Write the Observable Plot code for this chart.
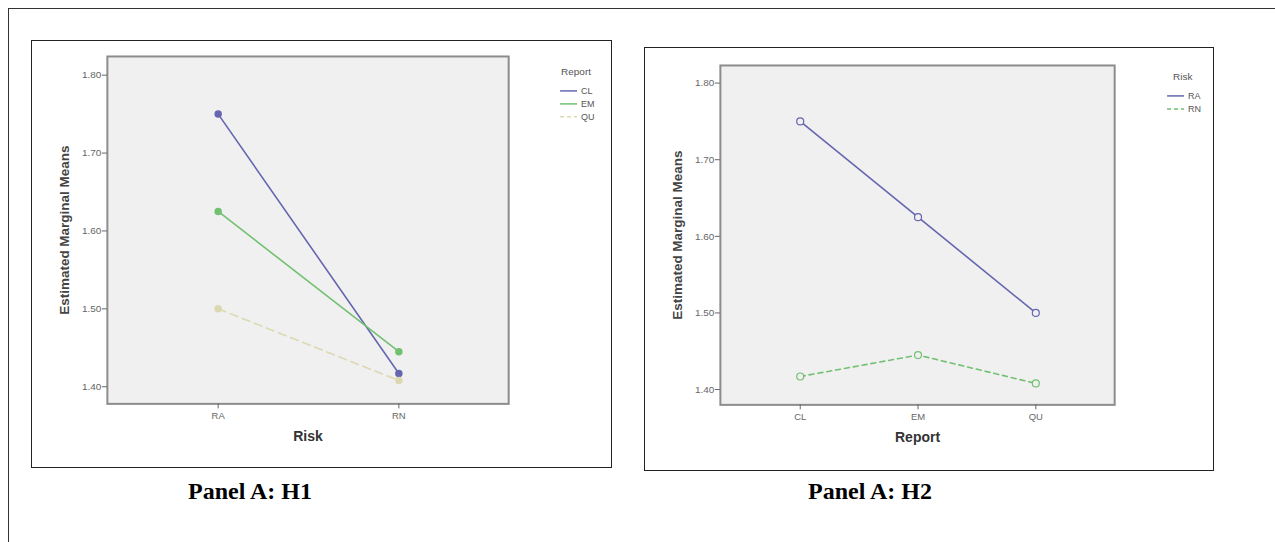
<!DOCTYPE html>
<html>
<head>
<meta charset="utf-8">
<script src="https://cdn.jsdelivr.net/npm/d3@7"></script>
<script src="https://cdn.jsdelivr.net/npm/@observablehq/plot@0.6"></script>
<style>
  html, body { margin: 0; padding: 0; background: #fff; width: 1275px; height: 542px; overflow: hidden; }
  #outer { position: absolute; left: 8px; top: 8px; width: 1300px; height: 600px; border-left: 1.5px solid #333; border-top: 1.5px solid #333; }
  .panel { position: absolute; border: 1px solid #222; box-sizing: border-box; background: #fff; }
  .panel svg { position: absolute; left: 0; top: 0; }
  .caption { position: absolute; font-family: "Liberation Serif", "Times New Roman", serif; font-weight: bold; font-size: 24px; color: #000; transform: translateX(-50%); white-space: nowrap; }
</style>
</head>
<body>
<div id="outer"></div>
<div id="p1" class="panel" style="left:31px; top:40px; width:581px; height:428px;"></div>
<div id="p2" class="panel" style="left:644px; top:47px; width:570px; height:424px;"></div>
<div class="caption" style="left:250px; top:478px;">Panel A: H1</div>
<div class="caption" style="left:870px; top:478px;">Panel A: H2</div>
<script>
// ---------- data ----------
const risks = ["RA", "RN"];
const reports = ["CL", "EM", "QU"];
// estimated marginal means, per report, in order of risks [RA, RN]
const meansCL = [1.750, 1.417];
const meansEM = [1.625, 1.445];
const meansQU = [1.500, 1.408];
const yTicks = [1.40, 1.50, 1.60, 1.70, 1.80];
const yLabel = "Estimated Marginal Means";

// styles
const reportColors = ["#6666b0", "#72c072", "#dcd9b2"];
const reportDash = [null, null, "8,5"];
const riskColors = ["#6666b0", "#72c072"];
const riskDash = [null, "5,4"];

const meansByReport = [meansCL, meansEM, meansQU];
const rows = [];
reports.forEach((rep, i) => risks.forEach((rk, j) => rows.push({report: rep, risk: rk, mean: meansByReport[i][j]})));

const fontFam = "'Liberation Sans', Arial, sans-serif";

function addLegend(svg, title, items, colors, dashes, x, y, tx) {
  const g = d3.select(svg).append("g").attr("font-family", fontFam).attr("text-anchor", "start");
  g.append("text").attr("x", tx).attr("y", y).attr("font-size", 10).attr("fill", "#555").text(title);
  items.forEach((it, i) => {
    const yy = y + 19 + i * 13;
    g.append("line").attr("x1", x).attr("x2", x + 17).attr("y1", yy - 3).attr("y2", yy - 3)
      .attr("stroke", colors[i]).attr("stroke-width", 1.5).attr("stroke-dasharray", dashes[i] ? "4,3" : null);
    g.append("text").attr("x", x + 21).attr("y", yy).attr("font-size", 9).attr("fill", "#555").text(it);
  });
}

function commonMarks(xLab, labelDy) {
  return [
    Plot.frame({fill: "#f0f0f0", stroke: "#8c8c8c", strokeWidth: 2}),
    Plot.axisY({ticks: yTicks, tickFormat: d3.format(".2f"), tickSize: 5, tickPadding: 1, fontSize: 10, color: "#666", label: null}),
    Plot.text([yLabel], {frameAnchor: "left", rotate: -90, dx: -43, textAnchor: "middle", text: d => d, fontSize: 13.5, fontWeight: "bold", fill: "#444"}),
    Plot.text([xLab], {frameAnchor: "bottom", dy: labelDy, text: d => d, fontSize: 14, fontWeight: "bold", fill: "#333"})
  ];
}

// ---------- Panel 1: x = Risk, series = Report ----------
{
  const marks = [...commonMarks("Risk", 37),
    Plot.axisX({tickSize: 5, tickPadding: 3, fontSize: 9.5, color: "#666", label: null})];
  reports.forEach((rep, i) => {
    const d = rows.filter(r => r.report === rep);
    marks.push(Plot.line(d, {x: "risk", y: "mean", stroke: reportColors[i], strokeWidth: 1.6, strokeDasharray: reportDash[i]}));
    marks.push(Plot.dot(d, {x: "risk", y: "mean", r: 3, fill: reportColors[i], stroke: reportColors[i]}));
  });
  const chart = Plot.plot({
    width: 580, height: 427,
    marginLeft: 75, marginRight: 103, marginTop: 15, marginBottom: 64,
    x: {type: "point", domain: risks, padding: 0.61},
    y: {domain: [1.378, 1.824]},
    style: {fontFamily: fontFam, background: "transparent"},
    marks
  });
  addLegend(chart, "Report", reports, reportColors, reportDash, 529, 34, 530);
  document.getElementById("p1").appendChild(chart);
}

// ---------- Panel 2: x = Report, series = Risk ----------
{
  const marks = [...commonMarks("Report", 37),
    Plot.axisX({tickSize: 5, tickPadding: 3, fontSize: 9.5, color: "#666", label: null})];
  risks.forEach((rk, j) => {
    const d = rows.filter(r => r.risk === rk);
    marks.push(Plot.line(d, {x: "report", y: "mean", stroke: riskColors[j], strokeWidth: 1.6, strokeDasharray: riskDash[j]}));
    marks.push(Plot.dot(d, {x: "report", y: "mean", r: 3.5, fill: "#f0f0f0", stroke: riskColors[j], strokeWidth: 1.2}));
  });
  const chart = Plot.plot({
    width: 569, height: 423,
    marginLeft: 75, marginRight: 99, marginTop: 17, marginBottom: 66,
    x: {type: "point", domain: reports, padding: 0.66},
    y: {domain: [1.380, 1.823]},
    style: {fontFamily: fontFam, background: "transparent"},
    marks
  });
  addLegend(chart, "Risk", risks, riskColors, riskDash, 523, 32, 529);
  document.getElementById("p2").appendChild(chart);
}
</script>
</body>
</html>
